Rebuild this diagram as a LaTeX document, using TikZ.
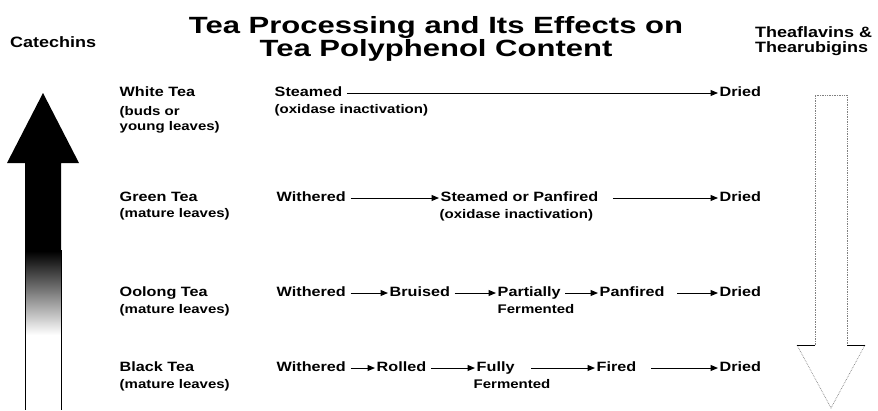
\documentclass[tikz,border=0pt]{standalone}
\usepackage{fontspec}
\setmainfont{Liberation Sans}[FakeStretch=1.2]
\newfontfamily\titlefont{Liberation Sans}[FakeStretch=1.32]
\usetikzlibrary{arrows.meta}
\begin{document}
\begin{tikzpicture}[x=1pt,y=-1pt,
  txt/.style={font=\fontsize{13.5}{15}\selectfont\bfseries, inner sep=1.5pt, anchor=west, text height=9.5pt, text depth=2.5pt},
  sub/.style={txt, font=\fontsize{12.5}{14}\selectfont\bfseries},
  hdr/.style={font=\fontsize{15}{17}\selectfont\bfseries, inner sep=0pt, anchor=west},
  ttl/.style={font=\titlefont\fontsize{23.5}{26}\selectfont\bfseries, inner sep=0pt, text height=17pt, text depth=4pt},
  flow/.style={-{Triangle[length=7.5pt,width=6pt]}, line width=1pt, shorten <=3pt},
]
\useasboundingbox[fill=white] (0,0) rectangle (878,410);

% title and headers
\node[ttl] (t1) at (436,27) {Tea Processing and Its Effects on};
\node[ttl] (t2) at (436,50) {Tea Polyphenol Content};
\node[hdr] (cat) at (10,42) {Catechins};
\node[hdr] (th1) at (755,32) {Theaflavins \&};
\node[hdr] (th2) at (755,49) {Thearubigins};

% left (catechins) arrow
\fill[black] (25,252) -- (25,163) -- (7,163) -- (43,93) -- (79,163) -- (61,163) -- (61,252) -- cycle;
\shade[top color=black, bottom color=white] (25,251) rectangle (61,335);
\draw[line width=0.9pt] (25,250) -- (25,410) (61,250) -- (61,410);

% right (theaflavins) arrow
\draw[gray, densely dotted, line width=0.7pt] (815,345) -- (815,95) -- (847,95) -- (847,345);
\draw[gray, densely dotted, line width=0.7pt] (797,345) -- (831,408) -- (865,345);
\draw[line width=0.8pt] (797,345) -- (815,345) (847,345) -- (865,345);

% row labels
\node[txt] (wt) at (118,93) {White Tea};
\node[sub] (wt1) at (118,112) {(buds or};
\node[sub] (wt2) at (118,127) {young leaves)};
\node[txt] (gt) at (118,198) {Green Tea};
\node[sub] (gt1) at (118,214) {(mature leaves)};
\node[txt] (ot) at (118,293) {Oolong Tea};
\node[sub] (ot1) at (118,310) {(mature leaves)};
\node[txt] (bt) at (118,368) {Black Tea};
\node[sub] (bt1) at (118,385) {(mature leaves)};

% white tea
\node[txt] (w1) at (273,93) {Steamed};
\node[txt] (w2) at (718,93) {Dried};
\node[sub] (w1s) at (273,110) {(oxidase inactivation)};
\draw[flow] (w1) -- (w2);

% green tea
\node[txt] (g1) at (275,198) {Withered};
\node[txt] (g2) at (439,198) {Steamed or Panfired};
\node[sub] (g2s) at (438,215) {(oxidase inactivation)};
\node[txt] (g3) at (718,198) {Dried};
\draw[flow] (g1) -- (g2);
\draw[flow] ([xshift=10pt]g2.east) -- (g3);

% oolong tea
\node[txt] (o1) at (275,293) {Withered};
\node[txt] (o2) at (388,293) {Bruised};
\node[txt] (o3) at (496,293) {Partially};
\node[sub] (o3s) at (496,310) {Fermented};
\node[txt] (o4) at (598,293) {Panfired};
\node[txt] (o5) at (718,293) {Dried};
\draw[flow] (o1) -- (o2);
\draw[flow] (o2) -- (o3);
\draw[flow] (o3) -- (o4);
\draw[flow] ([xshift=8pt]o4.east) -- (o5);

% black tea
\node[txt] (b1) at (275,368) {Withered};
\node[txt] (b2) at (375,368) {Rolled};
\node[txt] (b3) at (475,368) {Fully};
\node[sub] (b3s) at (472,385) {Fermented};
\node[txt] (b4) at (595,368) {Fired};
\node[txt] (b5) at (718,368) {Dried};
\draw[flow] (b1) -- (b2);
\draw[flow] (b2) -- (b3);
\draw[flow] ([xshift=12pt]b3.east) -- (b4);
\draw[flow] ([xshift=10pt]b4.east) -- (b5);
\end{tikzpicture}
\end{document}
